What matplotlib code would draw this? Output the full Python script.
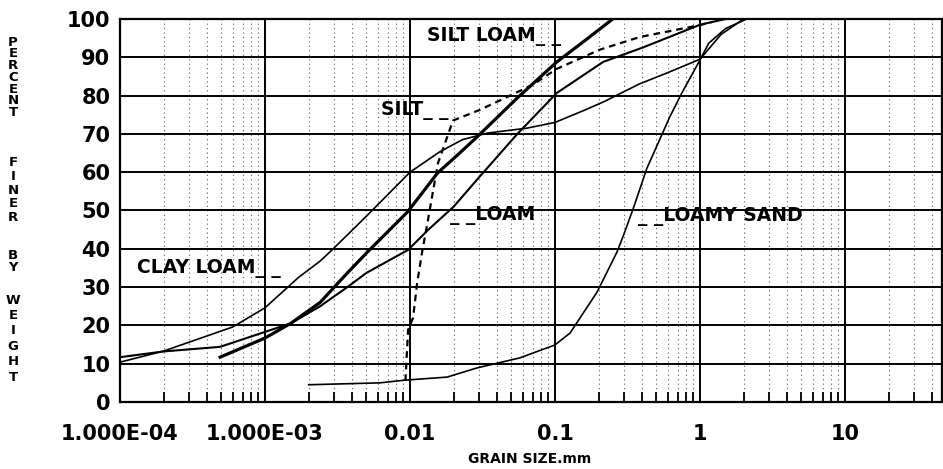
import matplotlib
matplotlib.use("Agg")
import matplotlib.pyplot as plt
from matplotlib.ticker import LogLocator, NullFormatter, FixedLocator

# ---------------- data ----------------
clay_loam_x = [1e-4, 2e-4, 6e-4, 1e-3, 1.7e-3, 2.4e-3, 2.9e-3, 5e-3, 0.01, 0.016, 0.023, 0.034,
               0.064, 0.1, 0.16, 0.22, 0.38, 0.6, 1.0, 1.4, 2.0]
clay_loam_y = [10.4, 13.3, 19.6, 24.6, 32.5, 36.8, 39.7, 48.5, 60, 65.3, 68.5, 70.2,
               71.5, 73, 76.2, 78.5, 83, 86, 89.5, 96, 100]

silt_loam_x = [4.9e-4, 1e-3, 1.5e-3, 2.4e-3, 3.7e-3, 5.1e-3, 0.0096, 0.0155, 0.022, 0.029,
               0.055, 0.103, 0.16, 0.25]
silt_loam_y = [11.7, 16.7, 20.5, 26, 33.7, 39.2, 49.6, 59.8, 65, 69.2,
               79.4, 88.8, 94.3, 100]

loam_x = [1e-4, 2e-4, 4.9e-4, 1e-3, 1.5e-3, 2.4e-3, 3.7e-3, 5e-3, 0.0097, 0.0133, 0.02, 0.03,
          0.055, 0.103, 0.215, 0.4, 1.0, 1.5]
loam_y = [11.7, 13.2, 14.4, 18.3, 20.5, 25, 30, 33.7, 39.7, 44.9, 51, 58.7,
          70, 80.7, 88.8, 92.5, 98.5, 100]

silt_x = [0.0093, 0.0097, 0.0105, 0.0112, 0.0121, 0.0133, 0.0156, 0.0198, 0.03, 0.042,
          0.07, 0.103, 0.204, 0.385, 1.0, 1.2]
silt_y = [5.5, 18.8, 22, 31, 39, 47.5, 62.4, 73.5, 76.2, 78.8,
          82.8, 87, 92, 95.3, 98.4, 99.2]

loamy_sand_x = [2e-3, 6.2e-3, 0.0092, 0.018, 0.029, 0.057, 0.1, 0.127, 0.195, 0.268, 0.3,
                0.35, 0.43, 0.62, 0.75, 1.0, 1.15, 1.5, 2.1]
loamy_sand_y = [4.5, 5.0, 5.7, 6.5, 8.9, 11.5, 14.9, 18, 28.7, 39.2, 44,
                51, 61, 74.5, 80.7, 89.3, 93.7, 97.5, 100]

x_tick_values = [1e-4, 1e-3, 1e-2, 1e-1, 1, 10]
x_tick_labels = ["1.000E-04", "1.000E-03", "0.01", "0.1", "1", "10"]
y_tick_values = list(range(0, 101, 10))

# ---------------- figure ----------------
W, H = 943, 469
fig = plt.figure(figsize=(W / 100, H / 100), dpi=100)
ax = fig.add_axes([120 / W, 1 - 402 / H, 822 / W, 383 / H])
ax.set_xscale("log")
ax.set_xlim(1e-4, 10 ** 1.669)
ax.set_ylim(0, 100)

ax.xaxis.set_major_locator(FixedLocator(x_tick_values))
ax.set_xticklabels(x_tick_labels)
ax.xaxis.set_minor_locator(LogLocator(base=10, subs=range(2, 10), numticks=50))
ax.xaxis.set_minor_formatter(NullFormatter())
ax.set_yticks(y_tick_values)

font = dict(family="DejaVu Sans", fontweight="bold")
for lab in ax.get_xticklabels() + ax.get_yticklabels():
    lab.set_fontfamily("DejaVu Sans")
    lab.set_fontweight("bold")
    lab.set_fontsize(15)

ax.grid(which="major", axis="both", color="black", lw=1.4, zorder=1)
ax.grid(which="minor", axis="x", color="0.35", lw=0.8, ls=(0, (1, 3)), zorder=1)
ax.set_axisbelow(True)
ax.tick_params(axis="x", which="minor", direction="in", length=7, width=1.3, color="black")
ax.tick_params(axis="x", which="major", direction="in", length=0, pad=16)
ax.tick_params(axis="y", which="both", length=0, pad=7)
for sp in ax.spines.values():
    sp.set_linewidth(1.6)

# ---------------- curves ----------------
ax.plot(clay_loam_x, clay_loam_y, color="black", lw=1.2, zorder=3)
ax.plot(loam_x, loam_y, color="black", lw=1.5, zorder=3)
ax.plot(silt_loam_x, silt_loam_y, color="black", lw=2.3, zorder=3)
ax.plot(silt_x, silt_y, color="black", lw=1.6, ls=(0, (3, 2.2)), zorder=3)
ax.plot(loamy_sand_x, loamy_sand_y, color="black", lw=1.2, zorder=3)

# ---------------- labels ----------------
def px_text(xp, yp, s, **kw):
    fig.text(xp / W, 1 - yp / H, s, **kw)

lab_kw = dict(fontsize=13.5, va="center", ha="left", **font)
px_text(427, 36, "SILT LOAM_ _", **lab_kw)
px_text(381, 110, "SILT_ _", **lab_kw)
px_text(450, 215, "_ _LOAM", **lab_kw)
px_text(638, 216, "_ _LOAMY SAND", **lab_kw)
px_text(137, 268, "CLAY LOAM_ _", **lab_kw)

px_text(530, 459, "GRAIN SIZE.mm", fontsize=10, ha="center", va="center", **font)

words = [("PERCENT", 42, 11.8), ("FINER", 163, 13.5), ("BY", 255, 12), ("WEIGHT", 300, 15.4)]
for word, start, step in words:
    for i, ch in enumerate(word):
        px_text(13, start + i * step, ch, fontsize=9.5, ha="center", va="center", **font)

fig.savefig("out.png", dpi=100)
